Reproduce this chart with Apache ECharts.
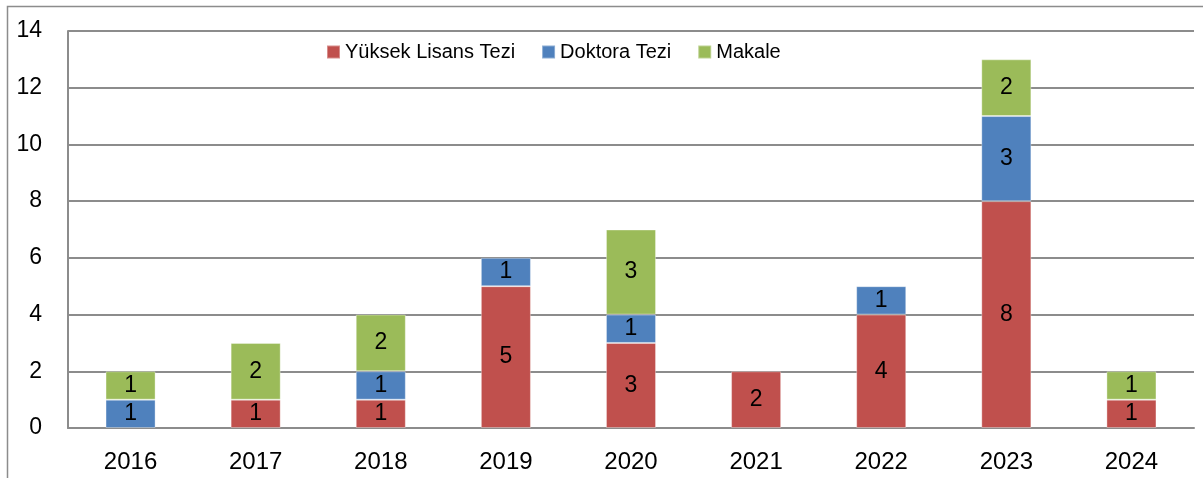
<!DOCTYPE html>
<html>
<head>
<meta charset="utf-8">
<script src="https://cdn.jsdelivr.net/npm/echarts@6/dist/echarts.min.js"></script>
<style>
  html, body { margin: 0; padding: 0; background: #fff; }
  #chart { width: 1203px; height: 478px; }
</style>
</head>
<body>
<div id="chart"></div>
<script>
// Yearly counts of publications by type
const years = ['2016', '2017', '2018', '2019', '2020', '2021', '2022', '2023', '2024'];
const yuksekLisans = [null, 1, 1, 5, 3, 2, 4, 8, 1];
const doktora = [1, null, 1, 1, 1, null, 1, 3, null];
const makale = [1, 2, 2, null, 3, null, null, 2, 1];
const seriesNames = ['Yüksek Lisans Tezi', 'Doktora Tezi', 'Makale'];
const seriesColors = ['#C0504D', '#4F81BD', '#9BBB59'];

const FONT = '"Liberation Sans", Arial, sans-serif';

const chart = echarts.init(document.getElementById('chart'), null, { renderer: 'canvas' });

function barSeries(name, data, color) {
  return {
    name: name,
    type: 'bar',
    stack: 'total',
    data: data,
    barWidth: '40%',
    itemStyle: { color: color, borderColor: 'rgba(255,255,255,0.35)', borderWidth: 1 },
    label: {
      show: true,
      position: 'inside',
      color: '#000',
      fontFamily: FONT,
      fontSize: 23
    }
  };
}

chart.setOption({
  animation: false,
  backgroundColor: '#fff',
  graphic: [{
    type: 'rect',
    shape: { x: 7.5, y: 6.5, width: 1400, height: 600 },
    style: { fill: 'none', stroke: '#8c8c8c', lineWidth: 1.5 },
    silent: true,
    z: -1
  }],
  legend: {
    top: 37,
    left: 321,
    itemWidth: 13,
    itemHeight: 13,
    itemGap: 26,
    icon: 'rect',
    textStyle: { fontFamily: FONT, fontSize: 20, color: '#000' },
    data: seriesNames
  },
  grid: { left: 68, top: 31, right: 9, bottom: 50 },
  xAxis: {
    type: 'category',
    data: years,
    axisLine: { lineStyle: { color: '#8c8c8c', width: 2 } },
    axisTick: { show: false },
    axisLabel: { fontFamily: FONT, fontSize: 24, color: '#000', margin: 22 }
  },
  yAxis: {
    type: 'value',
    min: 0,
    max: 14,
    interval: 2,
    axisLine: { show: true, lineStyle: { color: '#8c8c8c', width: 2 } },
    axisTick: { show: false },
    axisLabel: { fontFamily: FONT, fontSize: 23, color: '#000', margin: 26 },
    splitLine: { lineStyle: { color: '#8c8c8c', width: 2 } }
  },
  series: [
    barSeries(seriesNames[0], yuksekLisans, seriesColors[0]),
    barSeries(seriesNames[1], doktora, seriesColors[1]),
    barSeries(seriesNames[2], makale, seriesColors[2])
  ]
});
</script>
</body>
</html>
